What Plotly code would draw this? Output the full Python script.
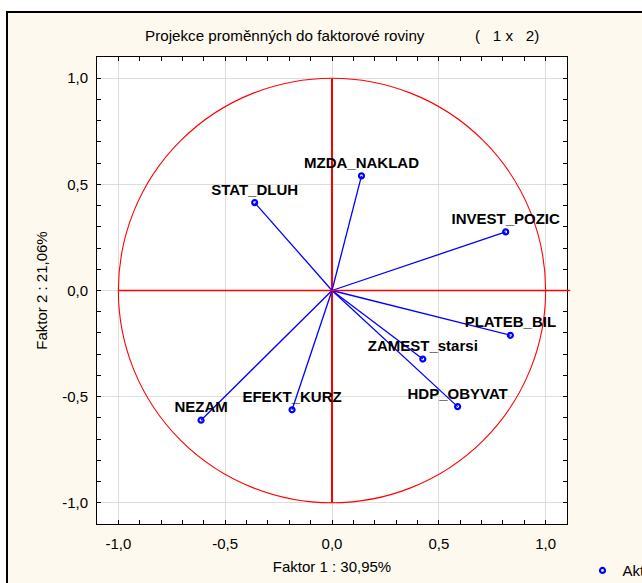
import plotly.graph_objects as go

# ---- data ----
variables = ["STAT_DLUH", "MZDA_NAKLAD", "INVEST_POZIC", "PLATEB_BIL",
             "ZAMEST_starsi", "HDP_OBYVAT", "EFEKT_KURZ", "NEZAM"]
factor1 = [-0.362, 0.138, 0.813, 0.835, 0.425, 0.588, -0.187, -0.613]
factor2 = [0.414, 0.540, 0.276, -0.211, -0.323, -0.547, -0.562, -0.611]
tick_vals = [-1.0, -0.5, 0.0, 0.5, 1.0]
tick_text = ["-1,0", "-0,5", "0,0", "0,5", "1,0"]
legend_name = "Aktivní"
title_main = "Projekce proměnných do faktorové roviny"
title_parts = ["(", "1", "x", "2)"]
x_title = "Faktor 1 : 30,95%"
y_title = "Faktor 2 : 21,06%"

FONT = "Liberation Sans, Arial, sans-serif"
W, H = 642, 583
ML, MR, MT, MB = 97, 75, 57, 59
PW, PH = W - ML - MR, H - MT - MB
XR = [-1.1, 1.1]
YR = [-1.1, 1.1]
NB = "\u00a0"


def px_x(p):  # pixel -> paper x
    return (p - ML) / PW


def px_y(p):  # pixel -> paper y
    return (H - MB - p) / PH


def data_to_paper_x(v):
    return (v - XR[0]) / (XR[1] - XR[0])


# vectors from origin
lx, ly = [], []
for a, b in zip(factor1, factor2):
    lx += [0, a, None]
    ly += [0, b, None]

fig = go.Figure()
fig.add_trace(go.Scatter(x=lx, y=ly, mode="lines",
                         line=dict(color="#0000FF", width=1.3),
                         showlegend=False, hoverinfo="skip"))
fig.add_trace(go.Scatter(x=factor1, y=factor2, mode="markers+text",
                         text=variables, textposition="top center",
                         textfont=dict(family=FONT, size=15, color="#000000",
                                       weight="bold"),
                         marker=dict(symbol="circle-open", size=5, color="#0000FF",
                                     line=dict(width=2.2, color="#0000FF")),
                         name=legend_name, cliponaxis=False))

shapes = []
# white area outside the outer frame
shapes.append(dict(type="rect", xref="paper", yref="paper",
                   x0=px_x(-50), x1=px_x(700), y0=px_y(12), y1=px_y(-50),
                   fillcolor="white", line=dict(width=0), layer="below"))
shapes.append(dict(type="rect", xref="paper", yref="paper",
                   x0=px_x(-50), x1=px_x(7), y0=px_y(700), y1=px_y(-50),
                   fillcolor="white", line=dict(width=0), layer="below"))
# outer frame
shapes.append(dict(type="rect", xref="paper", yref="paper",
                   x0=px_x(7), x1=px_x(720), y0=px_y(720), y1=px_y(12),
                   line=dict(color="#000000", width=2), fillcolor="rgba(0,0,0,0)"))
# unit circle
shapes.append(dict(type="circle", xref="x", yref="y", x0=-1, x1=1, y0=-1, y1=1,
                   line=dict(color="#FF0000", width=1.1), layer="between"))
# axes through origin
shapes.append(dict(type="line", xref="x", yref="y", x0=0, x1=0, y0=-1, y1=1,
                   line=dict(color="#FF0000", width=2), layer="between"))
shapes.append(dict(type="line", xref="paper", yref="y",
                   x0=data_to_paper_x(-1.0), x1=data_to_paper_x(1.115), y0=0, y1=0,
                   line=dict(color="#FF0000", width=1.4), layer="above"))

axis_common = dict(
    tickmode="array", tickvals=tick_vals, ticktext=tick_text,
    ticks="inside", ticklen=4, tickcolor="#000000", tickwidth=1,
    minor=dict(dtick=0.1, tick0=0, ticks="inside", ticklen=4,
               tickcolor="#000000", showgrid=False),
    showline=True, linecolor="#000000", linewidth=1, mirror="ticks",
    showgrid=True, gridcolor="#DDDDDD", gridwidth=1,
    zeroline=False,
    tickfont=dict(family=FONT, size=15, color="#000000"),
)

title_text = (title_main + NB * 12 + title_parts[0] + NB * 3 + title_parts[1]
              + NB + title_parts[2] + NB * 3 + title_parts[3])

fig.update_layout(
    width=W, height=H,
    margin=dict(l=ML, r=MR, t=MT, b=MB, autoexpand=False),
    paper_bgcolor="#FDF9EE", plot_bgcolor="#FFFFFF",
    font=dict(family=FONT, size=15, color="#000000"),
    xaxis=dict(range=XR, ticklabelstandoff=6,
               title=dict(text=x_title, standoff=10,
                          font=dict(family=FONT, size=15)), **axis_common),
    yaxis=dict(range=YR, ticklabelstandoff=5,
               title=dict(text=y_title, standoff=10,
                          font=dict(family=FONT, size=15)), **axis_common),
    shapes=shapes,
    showlegend=True,
    legend=dict(x=px_x(582.5), xanchor="left", y=px_y(570.7), yanchor="middle",
                bgcolor="rgba(0,0,0,0)", font=dict(family=FONT, size=15),
                borderwidth=0),
    annotations=[dict(xref="paper", yref="paper", x=px_x(143), y=px_y(35),
                      xanchor="left", yanchor="middle", showarrow=False,
                      text=title_text,
                      font=dict(family=FONT, size=15.2, color="#000000"))],
)

fig.write_html("out.html")
